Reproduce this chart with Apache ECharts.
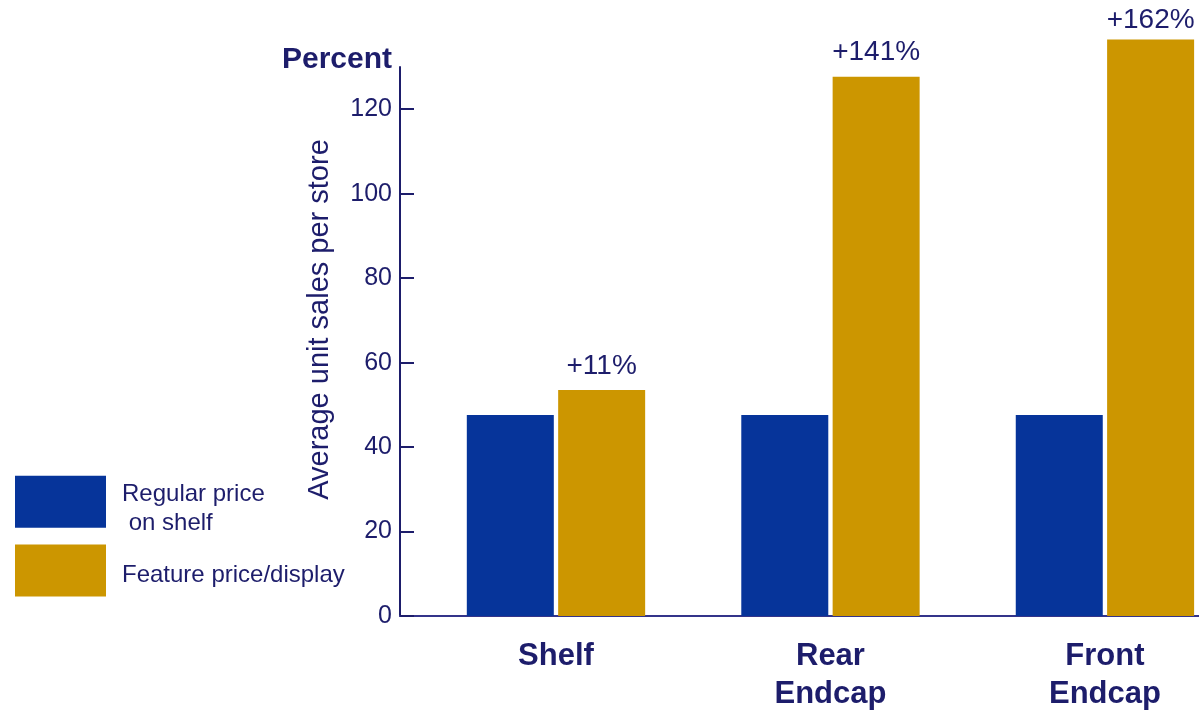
<!DOCTYPE html>
<html>
<head>
<meta charset="utf-8">
<title>Average unit sales per store by display location</title>
<script src="https://cdn.jsdelivr.net/npm/echarts@6/dist/echarts.min.js"></script>
<style>
  html, body { margin: 0; padding: 0; background: #ffffff; }
  #chart { width: 1199px; height: 713px; }
</style>
</head>
<body>
<div id="chart"></div>
<script>
// Display locations along the x axis
const categories = ['Shelf', 'Rear\nEndcap', 'Front\nEndcap'];
// Average unit sales per store, regular price on shelf
const regularPrice = [47.6, 47.6, 47.6];
// Average unit sales per store, feature price / display
const featurePrice = [53.5, 127.7, 136.5];
// Lift of feature price/display over regular price
const featureLabels = ['+11%', '+141%', '+162%'];
// Labelled y ticks
const yTicks = [0, 20, 40, 60, 80, 100, 120];

const NAVY = '#1d1d6b';
const BLUE = '#06349a';
const GOLD = '#cc9600';
const FONT = '"Liberation Sans", Arial, Helvetica, sans-serif';

const SERIES_REGULAR = 'Regular price\n on shelf';
const SERIES_FEATURE = 'Feature price/display';

const chart = echarts.init(document.getElementById('chart'), null, { renderer: 'canvas' });

const regularData = categories.map((c, i) => [i, regularPrice[i]]);
const featureData = categories.map((c, i) => ({
  value: [i, featurePrice[i]],
  label: { distance: i === 2 ? 5 : 10 }
}));

// Legend text is set slightly below the middle of its swatch: a half-height
// spacer line goes on top and every real line takes two half-height rows.
function legendText(name) {
  return '\n' + name.split('\n').join('\n\n');
}

chart.setOption({
  backgroundColor: '#ffffff',
  animation: false,
  textStyle: { fontFamily: FONT },
  grid: { left: 400, right: 0, top: 67, bottom: 96, containLabel: false },
  legend: {
    orient: 'vertical',
    left: 15,
    top: 468,
    padding: 0,
    itemWidth: 91,
    itemHeight: 52,
    itemGap: 9,
    icon: 'rect',
    selectedMode: false,
    formatter: legendText,
    data: [
      { name: SERIES_REGULAR },
      { name: SERIES_FEATURE, textStyle: { lineHeight: 10 } }
    ],
    textStyle: {
      fontFamily: FONT,
      fontSize: 24,
      lineHeight: 14.5,
      color: NAVY,
      padding: [0, 0, 0, 11]
    }
  },
  xAxis: {
    type: 'value',
    min: -0.5683,
    max: 2.3427,
    splitLine: { show: false },
    axisTick: { show: false },
    axisLine: { show: true, onZero: false, lineStyle: { color: '#34348a', width: 2 } },
    axisLabel: {
      customValues: [0, 1, 2],
      formatter: (v) => categories[Math.round(v)],
      fontFamily: FONT,
      fontSize: 31,
      fontWeight: 'bold',
      lineHeight: 38,
      color: NAVY,
      margin: 21
    }
  },
  yAxis: [
    {
      type: 'value',
      min: 0,
      max: 130,
      interval: 20,
      name: 'Percent',
      nameLocation: 'end',
      nameGap: 7,
      nameTextStyle: {
        fontFamily: FONT,
        fontSize: 30,
        fontWeight: 'bold',
        color: NAVY,
        align: 'right',
        verticalAlign: 'middle',
        padding: [0, 8, 0, 0]
      },
      splitLine: { show: false },
      axisLine: { show: true, onZero: false, lineStyle: { color: NAVY, width: 2 } },
      axisTick: {
        show: true,
        inside: true,
        length: 14,
        customValues: yTicks,
        lineStyle: { color: NAVY, width: 2 }
      },
      axisLabel: {
        customValues: yTicks,
        fontFamily: FONT,
        fontSize: 25,
        color: NAVY,
        margin: 8
      }
    },
    {
      type: 'value',
      min: 0,
      max: 130,
      position: 'left',
      name: 'Average unit sales per store',
      nameLocation: 'middle',
      nameRotate: 90,
      nameGap: 66,
      nameTextStyle: {
        fontFamily: FONT,
        fontSize: 29,
        color: NAVY,
        padding: [0, 0, 0, 44]
      },
      splitLine: { show: false },
      axisLine: { show: false, onZero: false },
      axisTick: { show: false },
      axisLabel: { show: false }
    }
  ],
  series: [
    {
      name: SERIES_REGULAR,
      type: 'bar',
      barWidth: 87,
      barGap: '5%',
      clip: false,
      itemStyle: { color: BLUE },
      data: regularData
    },
    {
      name: SERIES_FEATURE,
      type: 'bar',
      barWidth: 87,
      barGap: '5%',
      clip: false,
      itemStyle: { color: GOLD },
      label: {
        show: true,
        position: 'top',
        fontFamily: FONT,
        fontSize: 28,
        color: NAVY,
        formatter: (p) => featureLabels[p.dataIndex]
      },
      data: featureData
    }
  ]
});
</script>
</body>
</html>
